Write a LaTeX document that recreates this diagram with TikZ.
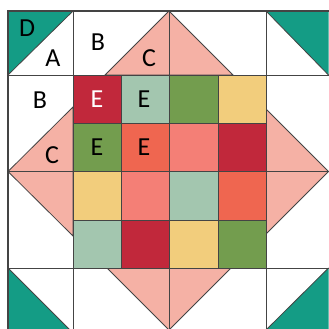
\documentclass[tikz,border=0pt]{standalone}
\usepackage{fontspec}
\setmainfont{Carlito}
\definecolor{teal1}{HTML}{149C85}
\definecolor{pink1}{HTML}{F5B1A5}
\definecolor{red1}{HTML}{C1283B}
\definecolor{sage1}{HTML}{A3C6AF}
\definecolor{green1}{HTML}{739D4E}
\definecolor{yellow1}{HTML}{F2CD7C}
\definecolor{orange1}{HTML}{EF6650}
\definecolor{salmon1}{HTML}{F47F76}
\definecolor{line1}{HTML}{444444}
\tikzset{
  seam/.style={draw=line1, line width=0.8pt},
  patch/.style={seam},
  lab/.style={inner sep=0pt, font=\fontsize{26}{26}\selectfont},
}
\begin{document}
\begin{tikzpicture}[x=1pt,y=-1pt]
\useasboundingbox (0,0) rectangle (329,329);
\clip (0,0) rectangle (329,329);
\fill[white] (0,0) rectangle (329,329);
% corner teal triangles
\fill[teal1] (8,11) -- (73,11) -- (8,75) -- cycle;
\fill[teal1] (266,11) -- (328.5,11) -- (328.5,75) -- cycle;
\fill[teal1] (8,268) -- (8,330) -- (70,330) -- cycle;
\fill[teal1] (328.5,268) -- (328.5,330) -- (266,330) -- cycle;
% pink triangles
\filldraw[pink1, patch] (169,11) -- (105,75) -- (233,75) -- cycle;
\filldraw[pink1, patch] (8,171.5) -- (73,107) -- (73,236) -- cycle;
\filldraw[pink1, patch] (328.5,171.5) -- (266,109) -- (266,234) -- cycle;
\filldraw[pink1, patch] (169,330) -- (107,268) -- (231,268) -- cycle;
% grid seams
\draw[seam] (8,75) -- (328.5,75);
\draw[seam] (8,268) -- (328.5,268);
\draw[seam] (73,11) -- (73,330);
\draw[seam] (266,11) -- (266,330);
\draw[seam] (169,11) -- (169,75);
\draw[seam] (169,268) -- (169,330);
\draw[seam] (8,171.5) -- (73,171.5);
\draw[seam] (266,171.5) -- (328.5,171.5);
% corner diagonals
\draw[seam] (8,75) -- (73,11);
\draw[seam] (266,11) -- (328.5,75);
\draw[seam] (8,268) -- (70,330);
\draw[seam] (328.5,268) -- (266,330);
% center squares
\def\xa{73}\def\xb{121}\def\xc{169}\def\xd{218}\def\xe{266}
\def\ya{75}\def\yb{123}\def\yc{171.5}\def\yd{220}\def\ye{268}
\filldraw[red1, patch]    (\xa,\ya) rectangle (\xb,\yb);
\filldraw[sage1, patch]   (\xb,\ya) rectangle (\xc,\yb);
\filldraw[green1, patch]  (\xc,\ya) rectangle (\xd,\yb);
\filldraw[yellow1, patch] (\xd,\ya) rectangle (\xe,\yb);
\filldraw[green1, patch]  (\xa,\yb) rectangle (\xb,\yc);
\filldraw[orange1, patch] (\xb,\yb) rectangle (\xc,\yc);
\filldraw[salmon1, patch] (\xc,\yb) rectangle (\xd,\yc);
\filldraw[red1, patch]    (\xd,\yb) rectangle (\xe,\yc);
\filldraw[yellow1, patch] (\xa,\yc) rectangle (\xb,\yd);
\filldraw[salmon1, patch] (\xb,\yc) rectangle (\xc,\yd);
\filldraw[sage1, patch]   (\xc,\yc) rectangle (\xd,\yd);
\filldraw[orange1, patch] (\xd,\yc) rectangle (\xe,\yd);
\filldraw[sage1, patch]   (\xa,\yd) rectangle (\xb,\ye);
\filldraw[red1, patch]    (\xb,\yd) rectangle (\xc,\ye);
\filldraw[yellow1, patch] (\xc,\yd) rectangle (\xd,\ye);
\filldraw[green1, patch]  (\xd,\yd) rectangle (\xe,\ye);
% outer border
\draw[draw=line1, line width=1.6pt] (8,330) -- (8,11) -- (328.5,11);
% labels
\node[lab] (lD) at (27,28) {D};
\node[lab] (lA) at (53,58) {A};
\node[lab] (lB1) at (98,42) {B};
\node[lab] (lC1) at (149,58) {C};
\node[lab] (lB2) at (40,100) {B};
\node[lab] (lC2) at (52,155) {C};
\node[lab, text=white] (lE1) at (97,99) {E};
\node[lab] (lE2) at (144,99) {E};
\node[lab] (lE3) at (97,147) {E};
\node[lab] (lE4) at (144,147) {E};
\end{tikzpicture}
\end{document}
